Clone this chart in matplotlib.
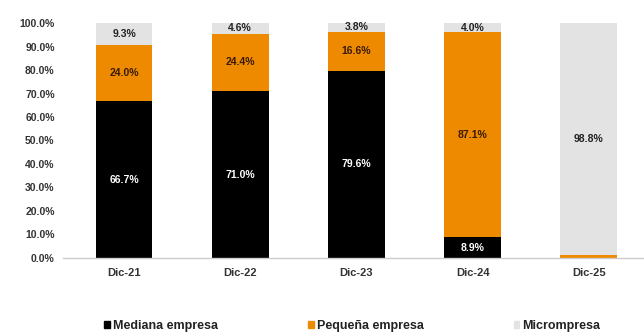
import numpy as np
import matplotlib
matplotlib.use("Agg")
import matplotlib.pyplot as plt
from matplotlib.patches import Patch

plt.rcParams['font.family'] = ['Liberation Sans', 'DejaVu Sans']

categories = ['Dic-21', 'Dic-22', 'Dic-23', 'Dic-24', 'Dic-25']
mediana = [66.7, 71.0, 79.6, 8.9, 0.0]
pequena = [24.0, 24.4, 16.6, 87.1, 1.2]
micro = [9.3, 4.6, 3.8, 4.0, 98.8]

c_med = '#000000'
c_peq = '#ee8a00'
c_mic = '#e3e3e3'

fig = plt.figure(figsize=(6.44, 3.35), dpi=100)
ax = fig.add_axes([0.0978, 0.2299, 0.907, 0.7014])

x = np.arange(len(categories))
w = 0.49
mediana = np.array(mediana)
pequena = np.array(pequena)
micro = np.array(micro)

ax.bar(x, mediana, w, color=c_med, label='Mediana empresa')
ax.bar(x, pequena, w, bottom=mediana, color=c_peq, label='Pequeña empresa')
ax.bar(x, micro, w, bottom=mediana + pequena, color=c_mic, label='Micrompresa')

# segment labels
fs = 7.5
for i in range(len(categories)):
    if mediana[i] > 0:
        ax.text(x[i], mediana[i] / 2, f'{mediana[i]:.1f}%', ha='center', va='center',
                color='white', fontsize=fs, fontweight='bold')
    if pequena[i] > 3:
        ax.text(x[i], mediana[i] + pequena[i] / 2, f'{pequena[i]:.1f}%', ha='center',
                va='center', color='#3a1a00', fontsize=fs, fontweight='bold')
    ax.text(x[i], mediana[i] + pequena[i] + micro[i] / 2, f'{micro[i]:.1f}%', ha='center',
            va='center', color='#222222', fontsize=fs, fontweight='bold')

ax.set_xlim(-0.525, 4.5)
ax.set_ylim(0, 100)
ax.set_yticks(np.arange(0, 101, 10))
ax.set_yticklabels([f'{v:.1f}%' for v in np.arange(0, 101, 10)])
ax.set_xticks(x)
ax.set_xticklabels(categories)
for lab in ax.get_xticklabels() + ax.get_yticklabels():
    lab.set_fontweight('bold')
    lab.set_color('#333333')
ax.tick_params(axis='y', length=0, labelsize=7.5, pad=6)
ax.tick_params(axis='x', length=0, labelsize=8, pad=7)

for s in ['top', 'right', 'left']:
    ax.spines[s].set_visible(False)
ax.spines['bottom'].set_color('#cccccc')
ax.spines['bottom'].set_linewidth(1.0)

handles = [Patch(color=c_med), Patch(color=c_peq), Patch(color=c_mic)]
leg = fig.legend(handles, ['Mediana empresa', 'Pequeña empresa', 'Micrompresa'],
                 loc='center left', bbox_to_anchor=(0.152, 0.026), ncol=3,
                 frameon=False, borderpad=0, handlelength=0.45, handleheight=0.45,
                 handletextpad=0.25, columnspacing=7.2,
                 prop={'size': 9, 'weight': 'bold'})
for t in leg.get_texts():
    t.set_color('#222222')

fig.savefig('out.png', dpi=100)
